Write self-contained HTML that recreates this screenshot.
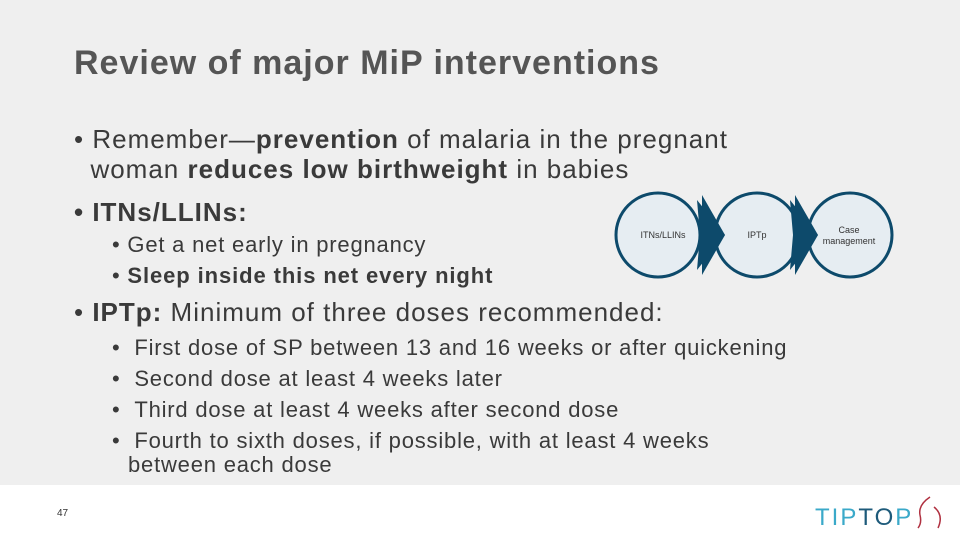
<!DOCTYPE html>
<html><head><meta charset="utf-8"><style>
body{margin:0;width:960px;height:540px;overflow:hidden;font-family:"Liberation Sans",sans-serif;}
#slide{position:relative;width:960px;height:540px;background:#fff;}
#bg{position:absolute;left:0;top:0;width:960px;height:485px;background:#efefef;}
.t{position:absolute;color:#3a3a3a;white-space:nowrap;}
</style></head><body>
<div id="slide">
<div id="bg"></div>
<div class="t" style="left:74px;top:44px;font-size:34px;font-weight:bold;color:#555;letter-spacing:1px;">Review of major MiP interventions</div>
<div class="t" style="left:74px;top:124px;font-size:26px;line-height:30px;letter-spacing:1px;">• Remember—<b>prevention</b> of malaria in the pregnant<br>&nbsp;&nbsp;woman <b>reduces low birthweight</b> in babies</div>
<div class="t" style="left:74px;top:197px;font-size:26px;font-weight:bold;letter-spacing:1px;">• ITNs/LLINs:</div>
<div class="t" style="left:112px;top:229px;font-size:22px;line-height:31px;letter-spacing:0.8px;">•&nbsp;Get a net early in pregnancy<br>•&nbsp;<b style="letter-spacing:0.9px">Sleep inside this net every night</b></div>
<div class="t" style="left:74px;top:297px;font-size:26px;letter-spacing:1px;">• <b>IPTp:</b> Minimum of three doses recommended:</div>
<div class="t" style="left:112px;top:332px;font-size:22px;line-height:31px;letter-spacing:0.8px;">•&nbsp;&nbsp;First dose of SP between 13 and 16 weeks or after quickening<br>•&nbsp;&nbsp;Second dose at least 4 weeks later<br>•&nbsp;&nbsp;Third dose at least 4 weeks after second dose<br>•&nbsp;&nbsp;Fourth to sixth doses, if possible, with at least 4 weeks</div>
<div class="t" style="left:128px;top:452px;font-size:22px;letter-spacing:0.8px;">between each dose</div>
<svg style="position:absolute;left:0;top:0" width="960" height="540">
<g font-family="Liberation Sans" font-size="9" fill="#333" text-anchor="middle">
<circle cx="850" cy="235" r="42" fill="#e6edf2" stroke="#0d4a6b" stroke-width="3"/>
<polygon points="795,195 818,235 795,275" fill="#0d4a6b"/>
<circle cx="757" cy="235" r="42" fill="#e6edf2" stroke="#0d4a6b" stroke-width="3"/>
<polygon points="702,195 725,235 702,275" fill="#0d4a6b"/>
<circle cx="658" cy="235" r="42" fill="#e6edf2" stroke="#0d4a6b" stroke-width="3"/>
<polygon points="697,200 725,235 697,270 700,235" fill="#0d4a6b"/>
<polygon points="790,200 818,235 790,270 793,235" fill="#0d4a6b"/>
<text x="663" y="238">ITNs/LLINs</text>
<text x="757" y="238">IPTp</text>
<text x="849" y="233">Case</text>
<text x="849" y="244">management</text>
</g>
<text x="57" y="516" font-family="Liberation Sans" font-size="10" fill="#333">47</text>
<g>
<text x="815" y="525" font-family="Liberation Sans" font-size="24" letter-spacing="2" fill="#3aa9c9">TIP<tspan fill="#1d5a7a">TO</tspan>P</text>
<path d="M930 497 Q918 505 920 515 Q922 523 918 528" stroke="#b03040" stroke-width="1.5" fill="none"/>
<path d="M934 507 Q944 515 938 528" stroke="#b03040" stroke-width="1.5" fill="none"/>
</g>
</svg>
</div>
</body></html>
